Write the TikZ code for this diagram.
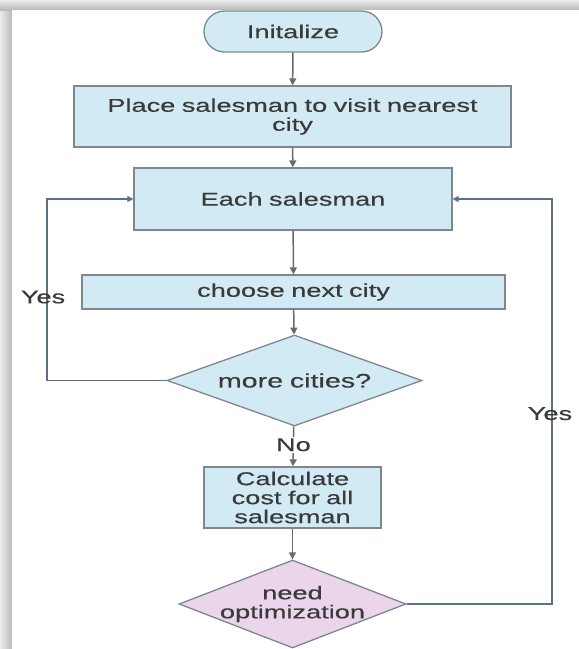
\documentclass[tikz,border=0pt]{standalone}
\usepackage{fontspec}
\setmainfont[FakeStretch=1.47, WordSpace=0.85, FakeBold=0.4]{Liberation Sans}
\usetikzlibrary{shapes.geometric,arrows.meta}
\definecolor{boxblue}{HTML}{D2EAF4}
\definecolor{boxpink}{HTML}{EBD5EB}
\definecolor{edgegray}{HTML}{7E8790}
\definecolor{arrgray}{HTML}{6A6A6A}
\definecolor{loopblue}{HTML}{5E7088}
\definecolor{txtgray}{HTML}{3A3A3A}
\tikzset{
  every node/.style={text=txtgray, font=\fontsize{18.5}{19}\selectfont},
  procbox/.style={draw=edgegray, line width=1.3pt, fill=boxblue, align=center, inner sep=0pt},
  termbox/.style={procbox, rounded corners=20.5pt},
  decblue/.style={diamond, draw=edgegray, line width=1.3pt, fill=boxblue, aspect=2.8, inner sep=0pt},
  decpink/.style={diamond, draw=edgegray, line width=1.3pt, fill=boxpink, inner sep=0pt},
  flow/.style={draw=arrgray, line width=1.5pt, -{Triangle[length=7pt,width=7pt]}},
  loop/.style={draw=loopblue, line width=1.4pt, -{Triangle[length=6pt,width=6pt]}},
  lbl/.style={inner sep=0pt},
}
\begin{document}
\begin{tikzpicture}[x=1pt,y=-1pt]
\useasboundingbox (0,0) rectangle (579,649);
% page shadow
\fill[white] (0,0) rectangle (579,649);
\shade[left color=gray!15, right color=gray!55] (0,0) rectangle (12,649);
\shade[top color=gray!15, bottom color=gray!55] (0,0) rectangle (579,10);
\fill[white] (12,10) rectangle (579,649);

\node[termbox, minimum width=178pt, minimum height=41pt] (init) at (293,31.5) {Initalize};
\node[procbox, minimum width=437pt, minimum height=61pt] (place) at (292.5,116.5) {Place salesman to visit nearest\\city};
\node[procbox, minimum width=318pt, minimum height=62pt] (each) at (293,199) {Each salesman};
\node[procbox, minimum width=423pt, minimum height=34pt] (choose) at (293.5,292) {choose next city};
\node[decblue, minimum width=255pt, minimum height=91pt, font=\fontsize{19.5}{19}\selectfont] (more) at (294.5,380.5) {more cities?};
\node[procbox, minimum width=177pt, minimum height=61pt] (calc) at (292.5,497.5) {Calculate\\cost for all\\salesman};
\node[decpink, minimum width=227pt, minimum height=88pt] (need) at (292.5,604) {};
\node[lbl, align=center] (needtxt) at (need.center) {need\\optimization};

\coordinate (lb) at (47,380.5);
\coordinate (lt) at (47,199);
\coordinate (rb) at (552,604);
\coordinate (rt) at (552,199);

\draw[flow] (init) -- (place);
\draw[flow] (place) -- (each);
\draw[flow] (each) -- (choose);
\draw[flow] (choose) -- (more);
\draw[flow] (more) -- node[lbl, fill=white, pos=0.46, inner ysep=1.5pt] (no) {No} (calc);
\draw[flow] (calc) -- (need);

\draw[loop] (more.west) -- (lb) -- node[lbl, pos=0.46, xshift=-4pt] (yes1) {Yes} (lt) -- (each.west);
\draw[loop] (need.east) -- (rb) -- node[lbl, pos=0.47, xshift=-2pt] (yes2) {Yes} (rt) -- (each.east);
\end{tikzpicture}
\end{document}
